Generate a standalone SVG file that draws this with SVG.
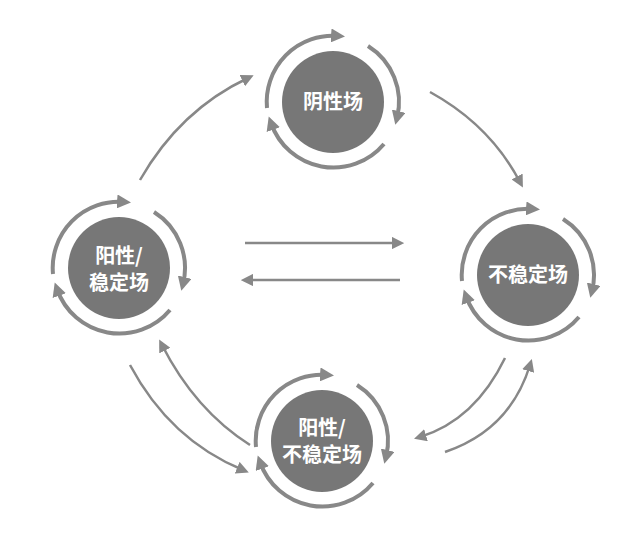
<svg xmlns="http://www.w3.org/2000/svg" width="642" height="539" viewBox="0 0 642 539">
<style>
.c{fill:#777}
.r{fill:none;stroke:#888;stroke-width:4;marker-end:url(#a)}
.e{fill:none;stroke:#888;stroke-width:2.5;marker-end:url(#b)}
text{font-family:"Noto Sans CJK SC","Liberation Sans",sans-serif;font-weight:bold;font-size:20px;fill:#fff;text-anchor:middle}
</style>
<defs>
<marker id="a" viewBox="0 0 10 10" refX="5" refY="5" markerWidth="3.5" markerHeight="3.5" orient="auto" markerUnits="strokeWidth"><path d="M0,0L10,5L0,10z" fill="#888"/></marker>
<marker id="b" viewBox="0 0 10 10" refX="5" refY="5" markerWidth="5" markerHeight="5" orient="auto" markerUnits="strokeWidth"><path d="M0,0L10,5L0,10z" fill="#888"/></marker>
<g id="ring">
<path class="r" d="M-66,6 A66,66 0 0 1 5,-66"/>
<path class="r" d="M35,-56 A66,66 0 0 1 64,16"/>
<path class="r" d="M51,42 A66,66 0 0 1 -62,21"/>
</g>
</defs>
<g id="connectors">
<path class="e" d="M140,180 Q180,110 248,78"/>
<path class="e" d="M430,92 Q490,125 520,182"/>
<path class="e" d="M245,243 L398,243"/>
<path class="e" d="M400,280 L247,280"/>
<path class="e" d="M130,365 Q170,440 243,470"/>
<path class="e" d="M250,445 Q195,410 162,345"/>
<path class="e" d="M505,358 Q475,420 420,437"/>
<path class="e" d="M445,452 Q510,430 530,365"/>
</g>
<g id="n1" transform="translate(333,102)"><circle class="c" r="51"/><use href="#ring"/><text y="7">阴性场</text></g>
<g id="n2" transform="translate(119,268)"><circle class="c" r="51"/><use href="#ring"/><text y="-5">阳性/</text><text y="22">稳定场</text></g>
<g id="n3" transform="translate(528,275)"><circle class="c" r="51"/><use href="#ring"/><text y="7">不稳定场</text></g>
<g id="n4" transform="translate(322,441)"><circle class="c" r="51"/><use href="#ring"/><text y="-6">阳性/</text><text y="21">不稳定场</text></g>
</svg>
